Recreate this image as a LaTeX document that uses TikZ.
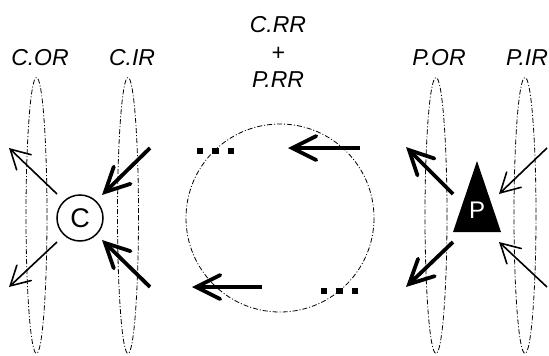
\documentclass[tikz,border=0pt]{standalone}
\usepackage{fontspec}
\setmainfont{Liberation Sans}
\usetikzlibrary{arrows.meta}
\begin{document}
\begin{tikzpicture}[x=1pt,y=-1pt,
  ring/.style={draw, line width=0.8pt, dash pattern=on 5pt off 2pt on 1pt off 2pt},
  thinarrow/.style={line width=1.6pt, -{Straight Barb[length=19pt,width=21pt,line cap=round]}},
  thickarrow/.style={line width=3.8pt, -{Straight Barb[length=24pt,width=24pt,line cap=round]}},
  lbl/.style={font=\fontsize{23}{27.5}\selectfont\itshape, inner sep=0pt},
  dot/.style={fill=black, minimum size=6.5pt, inner sep=0pt}]
\useasboundingbox (0,0) rectangle (549,356);
% labels
\node[lbl] (lcor) at (40,58) {C.OR};
\node[lbl] (lcir) at (132,58) {C.IR};
\node[lbl] (lpor) at (439,58) {P.OR};
\node[lbl] (lpir) at (527,58) {P.IR};
\node[lbl, align=center] (lrr) at (278,52) {C.RR\\+\\P.RR};
% rings
\draw[ring] (36.5,215.5) ellipse [x radius=10.5, y radius=138];
\draw[ring] (128,215.5) ellipse [x radius=10.5, y radius=138];
\draw[ring] (436,215.5) ellipse [x radius=11, y radius=138];
\draw[ring] (525,215.5) ellipse [x radius=11, y radius=138];
\draw[ring] (280,218) circle [radius=94];
% C node
\node[circle, draw, line width=1.5pt, minimum size=46pt, inner sep=0pt,
      font=\fontsize{27}{27}\selectfont] (C) at (80,218) {C};
% P node
\coordinate (Pa) at (477,161);
\coordinate (Pl) at (453,232);
\coordinate (Pr) at (501,232);
\fill (Pa) -- (Pl) -- (Pr) -- cycle;
\node[text=white, font=\fontsize{24}{24}\selectfont, inner sep=0pt] (P) at (477,210) {P};
% arrow end points
\coordinate (a1s) at (57,194);  \coordinate (a1e) at (9,148);
\coordinate (a2s) at (57,242);  \coordinate (a2e) at (9,287);
\coordinate (b1s) at (150,148); \coordinate (b1e) at (102,195);
\coordinate (b2s) at (150,287); \coordinate (b2e) at (102,240);
\coordinate (r1s) at (360,148); \coordinate (r1e) at (288,148);
\coordinate (r2s) at (262,287); \coordinate (r2e) at (192,287);
\coordinate (c1s) at (453,194); \coordinate (c1e) at (406,147);
\coordinate (c2s) at (453,242); \coordinate (c2e) at (406,287);
\coordinate (d1s) at (547,148); \coordinate (d1e) at (499,194);
\coordinate (d2s) at (547,287); \coordinate (d2e) at (499,242);
\draw[thinarrow] (a1s) -- (a1e);
\draw[thinarrow] (a2s) -- (a2e);
\draw[thickarrow] (b1s) -- (b1e);
\draw[thickarrow] (b2s) -- (b2e);
\draw[thickarrow] (r1s) -- (r1e);
\draw[thickarrow] (r2s) -- (r2e);
\draw[thickarrow] (c1s) -- (c1e);
\draw[thickarrow] (c2s) -- (c2e);
\draw[thinarrow] (d1s) -- (d1e);
\draw[thinarrow] (d2s) -- (d2e);
% dots
\node[dot] (t1) at (200,151) {};
\node[dot] (t2) at (215.5,151) {};
\node[dot] (t3) at (231,151) {};
\node[dot] (u1) at (324,291) {};
\node[dot] (u2) at (339.5,291) {};
\node[dot] (u3) at (355,291) {};
\end{tikzpicture}
\end{document}
